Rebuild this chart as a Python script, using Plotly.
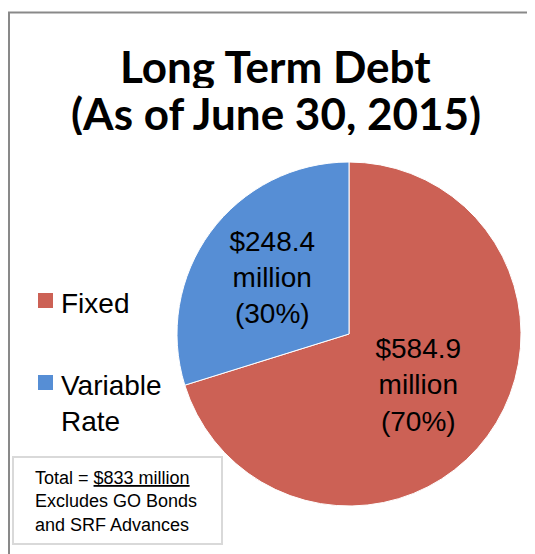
import plotly.graph_objects as go

categories = ["Fixed", "Variable Rate"]
legend_labels = ["Fixed", "Variable<br>Rate"]
values = [584.9, 248.4]
colors = ["#CC6155", "#568ED5"]
title_lines = ["Long Term Debt", "(As of June 30, 2015)"]
note_lines = ["Total = <u>$833 million</u>", "Excludes GO Bonds", "and SRF Advances"]

W, H = 535, 554
OFF = 8  # page body margin offset


def px(x):
    return (x - OFF) / W


def py(y):
    return 1 - (y - OFF) / H


fig = go.Figure()
fig.add_trace(go.Pie(
    labels=categories,
    values=values,
    marker=dict(colors=colors, line=dict(color="white", width=1)),
    sort=False,
    direction="clockwise",
    rotation=0,
    textposition="inside",
    insidetextorientation="horizontal",
    texttemplate="$%{value:.1f}<br>million<br>(%{percent:.0%})",
    textfont=dict(family="Liberation Sans, Arial", size=28, color="black"),
    domain=dict(x=[px(177), px(521)], y=[py(506), py(162)]),
    showlegend=False,
    hoverinfo="label+value+percent",
))

shapes = [
    dict(type="line", xref="paper", yref="paper", x0=px(8), x1=1, y0=py(12.5), y1=py(12.5),
         line=dict(color="#898989", width=2)),
    dict(type="line", xref="paper", yref="paper", x0=px(9), x1=px(9), y0=py(12.5), y1=0,
         line=dict(color="#898989", width=2)),
    dict(type="rect", xref="paper", yref="paper", x0=px(13), x1=px(222), y0=py(544), y1=py(457),
         line=dict(color="#D9D9D9", width=2), fillcolor="white"),
]

annotations = []
# title lines (each box is one line-pitch tall so the boxes just touch)
title_centers = [65.5, 112.5]
for t, c in zip(title_lines, title_centers):
    annotations.append(dict(
        text="<b>" + t + "</b>", xref="paper", yref="paper", x=px(275.5), y=py(c),
        xanchor="center", yanchor="middle", valign="middle", height=44, showarrow=False,
        font=dict(family="Lato", size=44, color="black"),
    ))

# manual legend
legend_square_tops = [293, 375]
legend_text_tops = [286, 368]
for lab, col, sq, tt in zip(legend_labels, colors, legend_square_tops, legend_text_tops):
    shapes.append(dict(type="rect", xref="paper", yref="paper", x0=px(38), x1=px(53),
                       y0=py(sq + 15), y1=py(sq), line=dict(width=0), fillcolor=col))
    annotations.append(dict(
        text=lab, xref="paper", yref="paper", x=px(59), y=py(tt),
        xanchor="left", yanchor="top", align="left", showarrow=False,
        font=dict(family="Liberation Sans, Arial", size=28, color="black"),
    ))

# note box
annotations.append(dict(
    text="<br>".join(note_lines), xref="paper", yref="paper", x=px(33), y=py(466),
    xanchor="left", yanchor="top", align="left", showarrow=False,
    font=dict(family="Liberation Sans, Arial", size=18, color="black"),
))

fig.update_layout(
    width=W, height=H, autosize=False,
    margin=dict(l=0, r=0, t=0, b=0),
    paper_bgcolor="white", plot_bgcolor="white",
    shapes=shapes, annotations=annotations,
    showlegend=False,
)

fig.write_html("out.html")
